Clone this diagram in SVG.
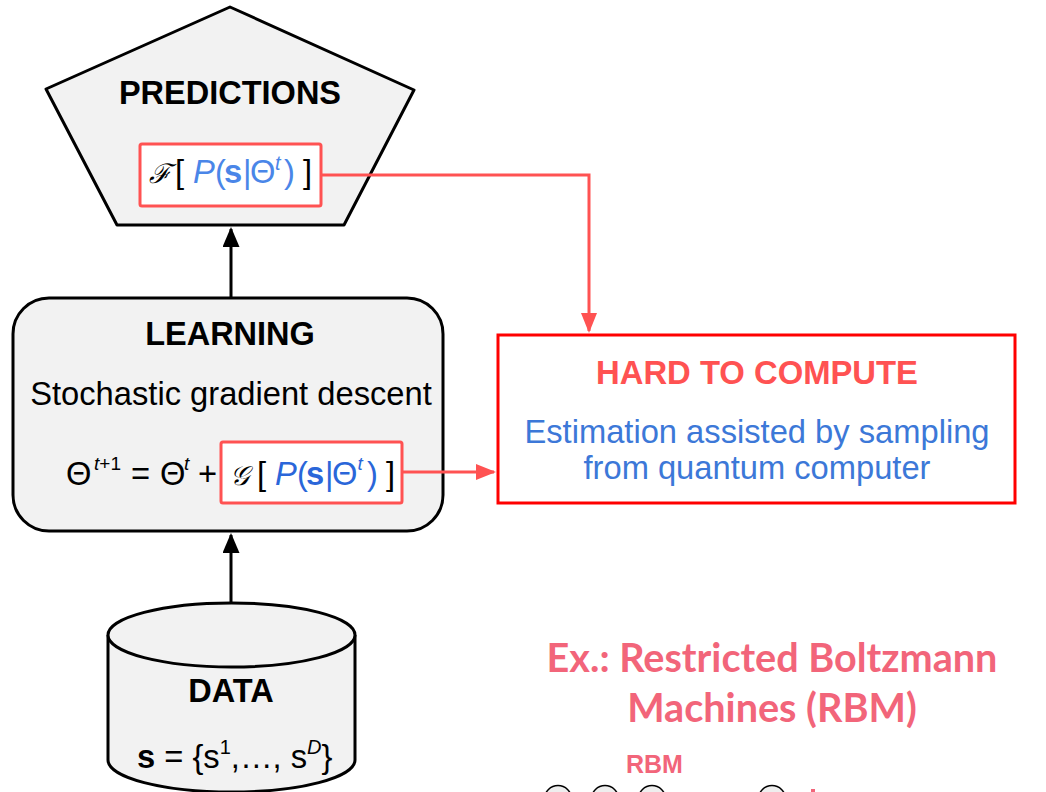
<svg xmlns="http://www.w3.org/2000/svg" width="1046" height="792" viewBox="0 0 1046 792">
  <style>
    .shape { fill:#f2f2f2; stroke:#000; stroke-width:3; stroke-linejoin:round; }
    .expr { fill:#fff; stroke:#ff5252; stroke-width:3; }
    .hard { fill:#fff; stroke:#ff0000; stroke-width:3; }
    .wire { fill:none; stroke:#000; stroke-width:3; }
    .wire-red { fill:none; stroke:#ff5252; stroke-width:3; }
    .head { font-family:"Liberation Sans", Arial, sans-serif; font-weight:bold; font-size:32.5px; fill:#000; text-anchor:middle; }
    .body { font-family:"Liberation Sans", Arial, sans-serif; font-size:32.7px; fill:#000; }
    .cal { font-family:"DejaVu Serif", "Liberation Serif", serif; font-style:italic; font-weight:normal; }
    .pb { fill:#4a86e8; }
    .lb { fill:#2a66d9; }
    .eb { fill:#3c78d8; }
    .pink { font-family:Lato, "Liberation Sans", sans-serif; font-weight:bold; fill:#f2657a; }
    .unit { fill:#eeeeee; stroke:#000; stroke-width:1.5; }
  </style>
  <defs>
    <marker id="arrow-black" markerUnits="userSpaceOnUse" markerWidth="22" markerHeight="18" refX="18" refY="8.5" orient="auto">
      <path d="M0,0 L20,8.5 L0,17 z" fill="#000"/>
    </marker>
    <marker id="arrow-red" markerUnits="userSpaceOnUse" markerWidth="22" markerHeight="18" refX="18" refY="8" orient="auto">
      <path d="M0,0 L20,8 L0,16 z" fill="#ff5252"/>
    </marker>
  </defs>

  <!-- predictions -->
  <g id="predictions">
    <polygon class="shape" points="230,7 46,89 117,225 344,225 414,90"/>
    <text class="head" x="230" y="104">PREDICTIONS</text>
    <rect class="expr" x="140" y="144" width="181" height="62" rx="2"/>
    <text class="body" y="183" font-size="32"><tspan class="cal" x="149" font-size="27">ℱ</tspan><tspan x="175">[</tspan><tspan class="pb" x="193" font-style="italic">P</tspan><tspan class="pb" x="215">(</tspan><tspan class="pb" x="224" font-weight="bold">s</tspan><tspan class="pb" x="243">|</tspan><tspan class="pb" x="250">Θ</tspan><tspan class="pb" x="275" y="170" font-size="20" font-style="italic">t</tspan><tspan class="pb" x="284" y="183">)</tspan><tspan x="303">]</tspan></text>
  </g>

  <!-- learning -->
  <g id="learning">
    <rect class="shape" x="13" y="298" width="430" height="233" rx="36"/>
    <text class="head" x="230" y="345">LEARNING</text>
    <text class="body" x="231" y="405" text-anchor="middle">Stochastic gradient descent</text>
    <rect class="expr" x="221" y="442" width="181" height="61" rx="2"/>
    <text class="body" y="485" font-size="29"><tspan x="66">Θ</tspan><tspan x="94" y="470" font-size="19" font-style="italic">t</tspan><tspan y="470" font-size="19">+1</tspan><tspan x="131" y="485">=</tspan><tspan x="160">Θ</tspan><tspan x="184" y="470" font-size="19" font-style="italic">t</tspan><tspan x="198" y="485">+</tspan><tspan class="cal" x="230" font-size="27">𝒢</tspan><tspan x="257">[</tspan><tspan class="lb" x="275" font-style="italic">P</tspan><tspan class="lb" x="297">(</tspan><tspan class="lb" x="306" font-weight="bold">s</tspan><tspan class="lb" x="325">|</tspan><tspan class="lb" x="332">Θ</tspan><tspan class="lb" x="357.5" y="470" font-size="19" font-style="italic">t</tspan><tspan class="lb" x="367" y="485">)</tspan><tspan x="386">]</tspan></text>
  </g>

  <!-- hard to compute -->
  <g id="hard-to-compute">
    <rect class="hard" x="498" y="335" width="517" height="168"/>
    <text class="head" x="757" y="384" style="fill:#ff5252;font-size:32.8px">HARD TO COMPUTE</text>
    <text class="body eb" x="757" y="443" text-anchor="middle">Estimation assisted by sampling</text>
    <text class="body eb" x="757" y="479" text-anchor="middle">from quantum computer</text>
  </g>

  <!-- data -->
  <g id="data">
    <path class="shape" d="M108,635 V760 A123.5,32 0 0 0 355,760 V635"/>
    <ellipse class="shape" cx="231.5" cy="635" rx="123.5" ry="32"/>
    <text class="head" x="231" y="702">DATA</text>
    <text class="body" x="137" y="768" font-size="32"><tspan font-weight="bold">s</tspan> = {s<tspan y="754" font-size="20">1</tspan><tspan y="768">,…, s</tspan><tspan y="754" font-size="20" font-style="italic">D</tspan><tspan y="768">}</tspan></text>
  </g>

  <!-- RBM example -->
  <g id="rbm-example">
    <text class="pink" x="772" y="672" font-size="39.6" text-anchor="middle">Ex.: Restricted Boltzmann</text>
    <text class="pink" x="772" y="722" font-size="39.6" text-anchor="middle">Machines (RBM)</text>
    <text class="pink" x="626" y="773" font-size="25" style="font-family:'Liberation Sans', Arial, sans-serif">RBM</text>
    <circle class="unit" cx="558" cy="799" r="13.5"/>
    <circle class="unit" cx="605" cy="799" r="13.5"/>
    <circle class="unit" cx="652" cy="799" r="13.5"/>
    <circle class="unit" cx="772" cy="799" r="13.5"/>
    <rect x="811" y="789" width="4" height="3" fill="#f2657a"/>
  </g>

  <!-- connectors, drawn over the node shapes -->
  <g id="connectors">
    <path class="wire" d="M231,298 V229" marker-end="url(#arrow-black)"/>
    <path class="wire" d="M231,603 V535" marker-end="url(#arrow-black)"/>
    <path class="wire-red" d="M321,175 H589 V331" marker-end="url(#arrow-red)"/>
    <path class="wire-red" d="M402,472 H494" marker-end="url(#arrow-red)"/>
  </g>
</svg>
